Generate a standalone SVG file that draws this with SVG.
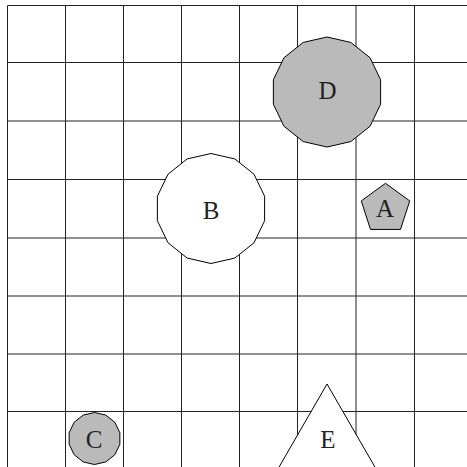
<svg xmlns="http://www.w3.org/2000/svg" width="467" height="467" viewBox="0 0 467 467">
<style>
.grid line{stroke:#222;stroke-width:1}
.shape{stroke:#000;stroke-width:1}
.gray{fill:#bababa}
.white{fill:#fff}
.lbl{font-family:"Liberation Serif","DejaVu Serif",serif;font-size:25px;fill:#222;text-anchor:middle}
</style>
<rect width="467" height="467" fill="#fff"/>
<g class="grid" id="grid">
<line x1="7.5" y1="5.5" x2="467" y2="5.5"/>
<line x1="7.5" y1="62.5" x2="467" y2="62.5"/>
<line x1="7.5" y1="121" x2="467" y2="121"/>
<line x1="7.5" y1="179.5" x2="467" y2="179.5"/>
<line x1="7.5" y1="238" x2="467" y2="238"/>
<line x1="7.5" y1="296" x2="467" y2="296"/>
<line x1="7.5" y1="354" x2="467" y2="354"/>
<line x1="7.5" y1="411.5" x2="467" y2="411.5"/>
<line x1="7.5" y1="5.5" x2="7.5" y2="467"/>
<line x1="65.5" y1="5.5" x2="65.5" y2="467"/>
<line x1="123.5" y1="5.5" x2="123.5" y2="467"/>
<line x1="181.5" y1="5.5" x2="181.5" y2="467"/>
<line x1="239.5" y1="5.5" x2="239.5" y2="467"/>
<line x1="297.5" y1="5.5" x2="297.5" y2="467"/>
<line x1="356" y1="5.5" x2="356" y2="467"/>
<line x1="414.5" y1="5.5" x2="414.5" y2="467"/>
</g>
<g id="connectors"></g>
<g id="D">
<polygon class="shape gray" points="327,37 350.86,42.44 370,57.71 380.62,79.76 380.62,104.24 370,126.29 350.86,141.56 327,147 303.14,141.56 284,126.29 273.38,104.24 273.38,79.76 284,57.71 303.14,42.44"/>
<text class="lbl" x="327.5" y="98.5">D</text>
</g>
<g id="B">
<polygon class="shape white" points="211,153.5 234.86,158.94 254,174.21 264.62,196.26 264.62,220.74 254,242.79 234.86,258.06 211,263.5 187.14,258.06 168,242.79 157.38,220.74 157.38,196.26 168,174.21 187.14,158.94"/>
<text class="lbl" x="211" y="218.5">B</text>
</g>
<g id="A">
<polygon class="shape gray" points="385.5,183.3 409.75,200.92 400.49,229.43 370.51,229.43 361.25,200.92"/>
<text class="lbl" x="385" y="216.5">A</text>
</g>
<g id="C">
<polygon class="shape gray" points="94.5,412.5 105.78,415.07 114.83,422.29 119.85,432.71 119.85,444.29 114.83,454.71 105.78,461.93 94.5,464.5 83.22,461.93 74.17,454.71 69.15,444.29 69.15,432.71 74.17,422.29 83.22,415.07"/>
<text class="lbl" x="94" y="447.5">C</text>
</g>
<g id="E">
<polygon class="shape white" points="327,384 375.5,468 278.5,468"/>
<text class="lbl" x="328" y="447.5">E</text>
</g>
</svg>
